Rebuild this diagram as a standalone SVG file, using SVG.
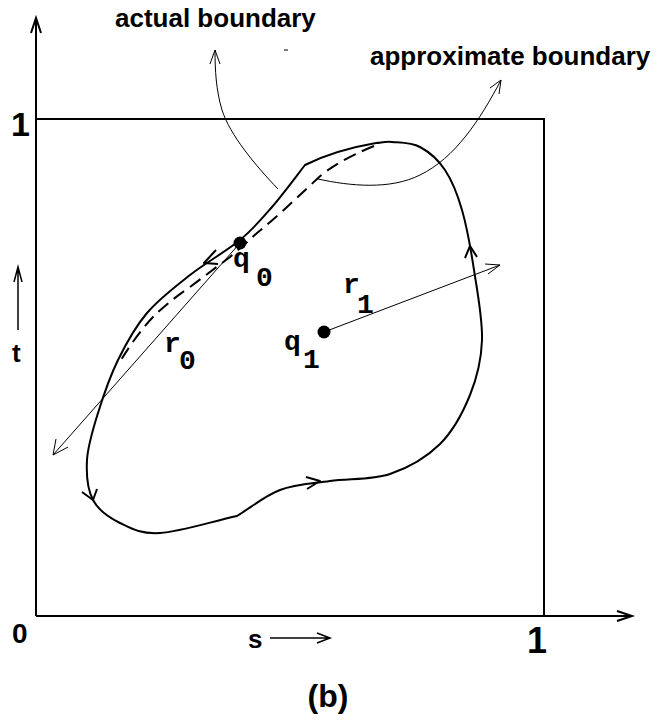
<svg xmlns="http://www.w3.org/2000/svg" width="659" height="725" viewBox="0 0 659 725">
<style>
.ax{fill:none;stroke:#000;stroke-width:2}
.thin{fill:none;stroke:#000;stroke-width:1}
.blob{fill:none;stroke:#000;stroke-width:2;stroke-linejoin:round}
.dash{fill:none;stroke:#000;stroke-width:2;stroke-dasharray:13 7}
.lbl{font-family:"Liberation Sans",Arial,sans-serif;font-weight:bold;fill:#000}
.mono{font-family:"Liberation Mono","Courier New",monospace;font-weight:bold;fill:#000;font-size:28px}
</style>
<rect width="659" height="725" fill="#fff"/>
<g id="axes">
<path class="ax" d="M36,616 V18 M31,33 L36,18 L41,33"/>
<path class="ax" d="M36,616 H632 M617,611 L632,616 L617,621"/>
<path class="ax" d="M36,119 H544 V616"/>
<path class="thin" d="M18,330 V267 M14,282 L18,267 L22,282" style="stroke-width:1.5"/>
<path class="thin" d="M270,638 H330 M317,633 L330,638 L317,643" style="stroke-width:1.5"/>
<text class="lbl" x="11" y="136" font-size="34">1</text>
<text class="lbl" x="12" y="643" font-size="28">0</text>
<text class="lbl" x="527" y="653" font-size="36">1</text>
<text class="lbl" x="248" y="648" font-size="26">s</text>
<text class="lbl" x="12" y="362" font-size="26">t</text>
<text class="lbl" x="328" y="707" font-size="32" text-anchor="middle">(b)</text>
</g>
<g id="boundary">
<path class="blob" d="M376,143 Q335,150 305,165 C299.5,172 282.8,194.5 272,207 C261.2,219.5 253.7,228.7 240,240 C226.3,251.3 205.5,262.8 190,275 C174.5,287.2 159,298.8 147,313 C135,327.2 126.2,343.3 118,360 C109.8,376.7 103.2,396.3 98,413 C92.8,429.7 87.8,445.5 87,460 C86.2,474.5 87.5,489.5 93,500 C98.5,510.5 108.8,517.5 120,523 C131.2,528.5 140.5,534.2 160,533 C179.5,531.8 211.3,521.7 237,516 C251.3,507.3 264.5,495.8 280,490 C295.5,484.2 311.7,483.7 330,481 C348.3,478.3 371.7,480.2 390,474 C408.3,467.8 426.7,457.2 440,444 C453.3,430.8 463,412.3 470,395 C477,377.7 481.3,360.8 482,340 C482.7,319.2 477.3,291.7 474,270 C470.7,248.3 466.8,226.7 462,210 C457.2,193.3 452,180.5 445,170 C438,159.5 428.8,151.7 420,147 C411.2,142.3 399.3,142.7 392,142 C384.7,141.3 381.3,142.7 376,143"/>
<path class="dash" d="M374,146 Q335,162 317,179 Q300,195 287,207 Q272,221 257,233 Q244,245 230,257 Q210,272 190,287 Q168,302 153,317 Q137,334 121,360"/>
<path class="blob" d="M216,250 L204,263 L218,264"/>
<path class="blob" d="M82,492 L93,500 L97,489"/>
<path class="blob" d="M306,477 L320,481 L307,489"/>
<path class="blob" d="M465,258 L470,246 L477,257"/>
</g>
<g id="q0">
<circle cx="240" cy="243" r="6.5" fill="#000"/>
<text class="mono" x="233" y="267">q</text>
<text class="mono" x="256" y="286">0</text>
</g>
<g id="q1">
<circle cx="324" cy="332" r="6.5" fill="#000"/>
<text class="mono" x="284" y="350">q</text>
<text class="mono" x="303" y="368">1</text>
</g>
<g id="connectors">
<path class="thin" d="M240,243 L53,455 M56,439 L53,455 L68,447"/>
<path class="thin" d="M324,332 L500,265 M485,264 L500,265 L488,274"/>
<path class="thin" d="M278,189 C255,165 230,135 222,110 C216,90 215,70 215,50 M210,64 L215,50 L220,64"/>
<path class="thin" d="M318,179 C350,186 390,190 420,175 C455,158 480,120 501,80 M490,88 L501,80 L499,94"/>
<path class="thin" d="M284,50 H288"/>
</g>
<g id="labels">
<text class="mono" x="164" y="352">r</text>
<text class="mono" x="179" y="369">0</text>
<text class="mono" x="343" y="293">r</text>
<text class="mono" x="357" y="313">1</text>
<text class="lbl" x="115" y="27" font-size="26">actual boundary</text>
<text class="lbl" x="370" y="65" font-size="26">approximate boundary</text>
</g>
</svg>
